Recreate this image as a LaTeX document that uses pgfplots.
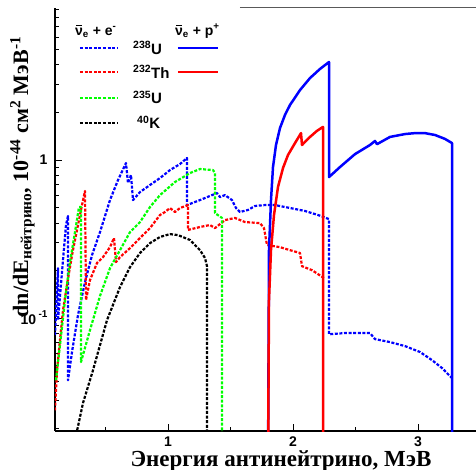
\documentclass[border=0pt]{standalone}
\usepackage{fontspec}
\setmainfont{Liberation Serif}
\setsansfont{Liberation Sans}
\usepackage{pgfplots}
\pgfplotsset{compat=1.18}
\newcommand\nubar{\leavevmode\hbox{\ooalign{ν\cr\hidewidth\raisebox{0.66em}{\rule{0.42em}{0.07em}}\hidewidth\cr}}}
\begin{document}
\begin{tikzpicture}
\begin{axis}[
  scale only axis, width=421pt, height=423pt,
  xmin=0.096, xmax=3.464,
  ymode=log, ymin=0.0193, ymax=9.16,
  axis lines*=left, axis line style={line width=1.5pt,-},
  xtick={1,2,3}, xticklabels={1,2,3},
  minor xtick={0.5,1.5,2.5},
  ytick={0.1,1}, yticklabels={{10\,\raisebox{0.5em}{\fontsize{10}{10}\selectfont -1}},{1\hspace{8pt}}},
  minor ytick={0.02,0.03,0.04,0.05,0.06,0.07,0.08,0.09,0.2,0.3,0.4,0.5,0.6,0.7,0.8,0.9,2,3,4,5,6,7,8,9},
  tick align=inside,
  major tick length=7pt, minor tick length=4.5pt,
  tick style={line width=0.8pt, black},
  tick label style={font=\sffamily\bfseries\fontsize{14}{14}\selectfont},
  xticklabel style={yshift=-2pt},
  yticklabel style={xshift=-4pt},
  xlabel={Энергия антинейтрино, МэВ},
  xlabel style={at={(axis description cs:0.9026,0)}, anchor=base east, yshift=-35pt, font=\bfseries\fontsize{23}{23}\selectfont},
  ylabel={dn/dE\textsubscript{нейтрино}, 10\textsuperscript{-44} см\textsuperscript{2} МэВ\textsuperscript{-1}},
  ylabel style={at={(axis description cs:-0.0641,0.941)}, anchor=base east, rotate=0, font=\bfseries\fontsize{22}{22}\selectfont},
  clip=true,
  every axis plot/.append style={line join=round},
]
\coordinate (BL) at (rel axis cs:0,0);
\coordinate (TR) at (rel axis cs:1,1);
% 238U nu+e (blue dashed)
\addplot[blue, line width=2.2pt, dash pattern=on 3pt off 1.6pt] coordinates {
(0.096,0.078)(0.12,0.207)(0.12,0.097)(0.16,0.233)(0.184,0.388)(0.20,0.442)(0.20,0.0404)(0.232,0.061)(0.28,0.1045)(0.336,0.169)(0.392,0.25)(0.456,0.35)(0.536,0.558)(0.60,0.747)(0.664,0.957)(0.68,0.715)(0.704,0.804)(0.72,0.558)(0.776,0.627)(0.856,0.695)(0.936,0.769)(1.016,0.864)(1.096,0.943)(1.152,1.03)(1.152,0.519)(1.256,0.558)(1.392,0.618)(1.416,0.583)(1.456,0.60)(1.512,0.558)(1.544,0.497)(1.576,0.469)(1.64,0.483)(1.696,0.512)(1.776,0.519)(1.856,0.519)(1.976,0.497)(2.096,0.476)(2.20,0.449)(2.288,0.423)(2.288,0.079)(2.416,0.0804)(2.616,0.0804)(2.656,0.0736)(2.776,0.0705)(2.896,0.0665)(3.016,0.061)(3.112,0.0542)(3.192,0.0483)(3.272,0.0417)
};
% 232Th nu+e (red dashed)
\addplot[red, line width=2.2pt, dash pattern=on 3pt off 1.6pt] coordinates {
(0.096,0.0261)(0.112,0.0468)(0.136,0.0727)(0.16,0.112)(0.192,0.162)(0.232,0.25)(0.272,0.361)(0.304,0.483)(0.336,0.637)(0.344,0.13)(0.376,0.174)(0.432,0.223)(0.48,0.243)(0.536,0.281)(0.568,0.321)(0.584,0.226)(0.616,0.243)(0.696,0.277)(0.776,0.321)(0.856,0.371)(0.936,0.449)(0.976,0.469)(1.016,0.497)(1.056,0.469)(1.096,0.497)(1.16,0.519)(1.16,0.361)(1.256,0.377)(1.336,0.388)(1.376,0.371)(1.456,0.417)(1.536,0.43)(1.616,0.405)(1.736,0.399)(1.768,0.371)(1.792,0.290)(1.896,0.281)(1.976,0.269)(2.056,0.258)(2.072,0.213)(2.152,0.201)(2.248,0.179)
};
% 235U nu+e (green dashed)
\addplot[green, line width=2.2pt, dash pattern=on 3pt off 1.6pt] coordinates {
(0.104,0.0404)(0.136,0.0675)(0.176,0.13)(0.216,0.226)(0.256,0.35)(0.288,0.504)(0.304,0.504)(0.304,0.0527)(0.376,0.084)(0.456,0.138)(0.536,0.207)(0.616,0.269)(0.696,0.35)(0.776,0.405)(0.856,0.504)(0.936,0.60)(1.056,0.726)(1.176,0.827)(1.256,0.877)(1.36,0.864)(1.376,0.827)(1.376,0.462)(1.432,0.43)(1.432,0.01)
};
% 40K nu+e (black dashed)
\addplot[black, line width=2.2pt, dash pattern=on 3pt off 1.6pt] coordinates {
(0.26,0.016)(0.272,0.0193)(0.32,0.029)(0.40,0.0468)(0.512,0.097)(0.616,0.157)(0.696,0.21)(0.776,0.258)(0.856,0.298)(0.936,0.326)(1.016,0.34)(1.08,0.335)(1.176,0.312)(1.256,0.269)(1.296,0.24)(1.312,0.213)(1.312,0.01)
};
% 238U nu+p (blue solid)
\addplot[blue, line width=2.5pt] coordinates {
(1.80,0.01)(1.808,0.269)(1.824,0.558)(1.84,0.903)(1.864,1.245)(1.896,1.594)(1.936,1.93)(1.976,2.23)(2.056,2.77)(2.136,3.30)(2.216,3.77)(2.288,4.17)(2.288,0.78)(2.376,0.903)(2.496,1.09)(2.616,1.245)(2.656,1.32)(2.672,1.26)(2.776,1.40)(2.896,1.46)(2.976,1.48)(3.056,1.48)(3.136,1.44)(3.216,1.36)(3.272,1.28)(3.272,0.01)
};
% 232Th nu+p (red solid)
\addplot[red, line width=2.5pt] coordinates {
(1.80,0.01)(1.808,0.13)(1.824,0.269)(1.848,0.449)(1.88,0.675)(1.92,0.89)(1.96,1.076)(2.016,1.28)(2.064,1.48)(2.072,1.245)(2.136,1.40)(2.192,1.53)(2.24,1.62)(2.24,0.01)
};
\end{axis}
% top frame line (partly hidden by legend in the original)
\draw[black!65, line width=1pt] ([xshift=185pt]BL |- TR) -- (TR);
% legend
\begin{scope}[shift={(BL)}, x=1pt, y=1pt]
\tikzset{hdr/.style={anchor=base west, inner sep=0pt, font=\sffamily\bfseries\fontsize{14}{14}\selectfont},
         lab/.style={anchor=base west, inner sep=0pt, font=\sffamily\bfseries\fontsize{15}{15}\selectfont},
         dsh/.style={line width=2.2pt, dash pattern=on 3pt off 1.6pt},
         sld/.style={line width=2.5pt}}
\node[hdr] at (20,396) {\nubar\textsubscript{e} + e\textsuperscript{-}};
\node[hdr] at (120,396) {\nubar\textsubscript{e} + p\textsuperscript{+}};
\draw[blue,dsh] (25,383) -- (63,383);
\draw[red,dsh] (25,359) -- (63,359);
\draw[green,dsh] (25,333) -- (63,333);
\draw[black,dsh] (25,308) -- (63,308);
\draw[blue,sld] (123,383) -- (163,383);
\draw[red,sld] (123,359) -- (163,359);
\node[lab] at (78,377) {\textsuperscript{238}U};
\node[lab] at (78,353) {\textsuperscript{232}Th};
\node[lab] at (78,327) {\textsuperscript{235}U};
\node[lab] at (82,302) {\textsuperscript{40}K};
\end{scope}
\pgfresetboundingbox
\path[use as bounding box] ([xshift=-55pt,yshift=-39pt]BL) rectangle ([yshift=8pt]TR);
\end{tikzpicture}
\end{document}
